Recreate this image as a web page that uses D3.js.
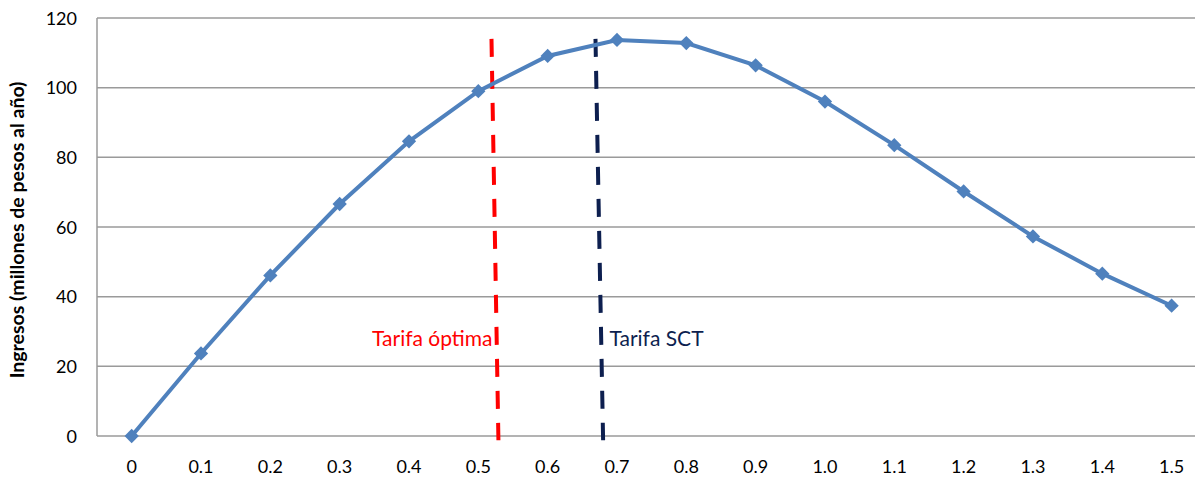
<!DOCTYPE html>
<html>
<head>
<meta charset="utf-8">
<script src="https://cdn.jsdelivr.net/npm/d3@7"></script>
<style>
  body { margin: 0; background: #fff; }
  text { font-family: Lato, "Open Sans", sans-serif; }
</style>
</head>
<body>
<div id="chart-area"></div>
<script>
// tarifa (x) vs ingresos (y)
var tarifas = ["0", "0.1", "0.2", "0.3", "0.4", "0.5", "0.6", "0.7", "0.8", "0.9", "1.0", "1.1", "1.2", "1.3", "1.4", "1.5"];
var ingresos = [0, 23.7, 46.1, 66.6, 84.6, 99.0, 109.1, 113.7, 112.8, 106.4, 96.0, 83.5, 70.2, 57.3, 46.6, 37.4];
var yTicks = [0, 20, 40, 60, 80, 100, 120];

// vertical reference lines (slightly slanted in the original)
var refNames = ["Tarifa óptima", "Tarifa SCT"];
var refTop = [0.519, 0.669];
var refBottom = [0.529, 0.680];
var refColors = ["#ff0000", "#0d1f4f"];

var width = 1195, height = 478;
var plotLeft = 97, plotTop = 18, plotBottom = 436;
var band = 69.33;

var svg = d3.select("#chart-area").append("svg")
    .attr("width", width)
    .attr("height", height);

var x = d3.scaleBand()
    .domain(tarifas)
    .range([plotLeft, plotLeft + band * tarifas.length]);

var xv = d3.scaleLinear()
    .domain([0, 1.5])
    .range([x("0") + x.bandwidth() / 2, x("1.5") + x.bandwidth() / 2]);

var y = d3.scaleLinear()
    .domain([0, 120])
    .range([plotBottom, plotTop]);

// gridlines
svg.append("g").selectAll("line")
    .data(yTicks)
    .enter().append("line")
    .attr("x1", plotLeft)
    .attr("x2", width)
    .attr("y1", function(d) { return y(d); })
    .attr("y2", function(d) { return y(d); })
    .attr("stroke", "#9a9a9a")
    .attr("stroke-width", 1.5);

// left axis line
svg.append("line")
    .attr("x1", plotLeft).attr("x2", plotLeft)
    .attr("y1", y(120)).attr("y2", y(0))
    .attr("stroke", "#9a9a9a")
    .attr("stroke-width", 1.5);

// y tick labels
svg.append("g").selectAll("text")
    .data(yTicks)
    .enter().append("text")
    .attr("x", 77)
    .attr("y", function(d) { return y(d) + 6.5; })
    .attr("text-anchor", "end")
    .attr("font-size", 18)
    .attr("fill", "#000")
    .text(function(d) { return d; });

// x tick labels
svg.append("g").selectAll("text")
    .data(tarifas)
    .enter().append("text")
    .attr("x", function(d) { return x(d) + x.bandwidth() / 2; })
    .attr("y", 473)
    .attr("text-anchor", "middle")
    .attr("font-size", 18)
    .attr("fill", "#000")
    .text(function(d) { return d; });

// y axis title
svg.append("text")
    .attr("transform", "translate(24,230) rotate(-90)")
    .attr("text-anchor", "middle")
    .attr("font-size", 19.5)
    .attr("font-weight", "bold")
    .attr("fill", "#000")
    .text("Ingresos (millones de pesos al año)");

// reference dashed lines
svg.append("g").selectAll("line")
    .data(refNames)
    .enter().append("line")
    .attr("x1", function(d, i) { return xv(refTop[i]); })
    .attr("x2", function(d, i) { return xv(refBottom[i]); })
    .attr("y1", y(114))
    .attr("y2", y(-1.2))
    .attr("stroke", function(d, i) { return refColors[i]; })
    .attr("stroke-width", 4)
    .attr("stroke-dasharray", "18,14");

// labels for the reference lines
svg.append("g").selectAll("text")
    .data(refNames)
    .enter().append("text")
    .attr("x", function(d, i) { return i == 0 ? xv(refTop[i]) + 1 : xv(refTop[i]) + 14; })
    .attr("y", 346)
    .attr("text-anchor", function(d, i) { return i == 0 ? "end" : "start"; })
    .attr("font-size", 21)
    .attr("fill", function(d, i) { return refColors[i]; })
    .text(function(d) { return d; });

// revenue line
var line = d3.line()
    .x(function(d, i) { return x(tarifas[i]) + x.bandwidth() / 2; })
    .y(function(d) { return y(d); });

svg.append("path")
    .datum(ingresos)
    .attr("d", line)
    .attr("fill", "none")
    .attr("stroke", "#4f81bd")
    .attr("stroke-width", 4);

// diamond markers
svg.append("g").selectAll("path")
    .data(ingresos)
    .enter().append("path")
    .attr("d", d3.symbol().type(d3.symbolDiamond2).size(130))
    .attr("transform", function(d, i) {
        return "translate(" + (x(tarifas[i]) + x.bandwidth() / 2) + "," + y(d) + ")";
    })
    .attr("fill", "#4f81bd");
</script>
</body>
</html>
